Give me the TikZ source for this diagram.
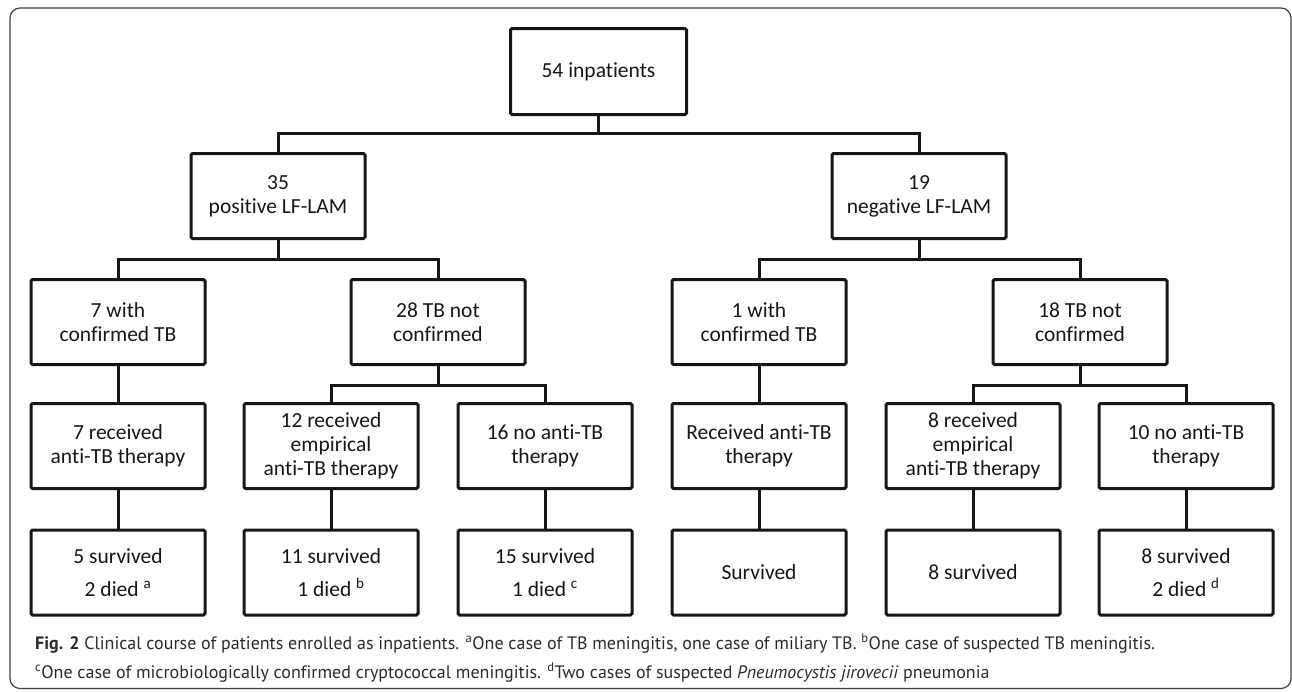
\documentclass[tikz,border=0pt]{standalone}
\usepackage{fontspec}
\setmainfont{Carlito}[Ligatures=NoCommon]
\newfontfamily\capfont{PT Sans}[Ligatures=NoCommon]
\definecolor{ink}{HTML}{161616}
\definecolor{captext}{HTML}{2A2A2A}
\begin{document}
\begin{tikzpicture}[x=1pt,y=-1pt,
  box/.style={draw=ink, line width=3pt, rounded corners=1.5pt, minimum width=174pt,
    minimum height=85pt, align=center, inner sep=0pt, text=ink,
    font=\fontsize{21.5}{24}\selectfont},
  link/.style={draw=ink, line width=3pt},
  captionline/.style={anchor=base west, inner sep=0pt, text=captext,
    font=\capfont\fontsize{18}{29}\selectfont}]
\useasboundingbox (0,0) rectangle (1292,691);
\draw[rounded corners=10pt, line width=1.2pt, draw=black!75] (10,8) rectangle (1291,688.5);

% level 1 and 2
\node[box, minimum height=86pt, minimum width=176pt] (n54) at (598.5,71.5) {54 inpatients};
\node[box] (n35) at (278,196) {35\\positive LF-LAM};
\node[box] (n19) at (919,196) {19\\negative LF-LAM};
% level 3
\node[box] (c7)  at (118,322)  {7 with\\confirmed TB};
\node[box] (c28) at (438,322)  {28 TB not\\confirmed};
\node[box] (c1)  at (759,322)  {1 with\\confirmed TB};
\node[box] (c18) at (1080,322) {18 TB not\\confirmed};
% level 4
\node[box] (t7)  at (118,446)  {7 received\\anti-TB therapy};
\node[box] (t12) at (331,446)  {12 received\\empirical\\anti-TB therapy};
\node[box] (t16) at (545,446)  {16 no anti-TB\\therapy};
\node[box] (t1)  at (759,446)  {Received anti-TB\\therapy};
\node[box] (t8)  at (973,446)  {8 received\\empirical\\anti-TB therapy};
\node[box] (t10) at (1186,446) {10 no anti-TB\\therapy};
% level 5
\node[box] (o7)  at (118,572.5)  {5 survived\\[9pt]2 died \textsuperscript{a}};
\node[box] (o12) at (331,572.5)  {11 survived\\[9pt]1 died \textsuperscript{b}};
\node[box] (o16) at (545,572.5)  {15 survived\\[9pt]1 died \textsuperscript{c}};
\node[box] (o1)  at (759,572.5)  {Survived};
\node[box] (o8)  at (973,572.5)  {8 survived};
\node[box] (o10) at (1186,572.5) {8 survived\\[9pt]2 died \textsuperscript{d}};

% bus levels
\coordinate (b1) at (0,133);
\coordinate (b2) at (0,259);
\coordinate (b3) at (0,385);

\draw[link] (n54.south) -- (n54.south |- b1);
\draw[link] (n35.north) -- (n35.north |- b1) -- (n19.north |- b1) -- (n19.north);

\draw[link] (n35.south) -- (n35.south |- b2);
\draw[link] (c7.north) -- (c7.north |- b2) -- (c28.north |- b2) -- (c28.north);
\draw[link] (n19.south) -- (n19.south |- b2);
\draw[link] (c1.north) -- (c1.north |- b2) -- (c18.north |- b2) -- (c18.north);

\draw[link] (c7.south) -- (t7.north);
\draw[link] (c28.south) -- (c28.south |- b3);
\draw[link] (t12.north) -- (t12.north |- b3) -- (t16.north |- b3) -- (t16.north);
\draw[link] (c1.south) -- (t1.north);
\draw[link] (c18.south) -- (c18.south |- b3);
\draw[link] (t8.north) -- (t8.north |- b3) -- (t10.north |- b3) -- (t10.north);

\draw[link] (t7.south) -- (o7.north);
\draw[link] (t12.south) -- (o12.north);
\draw[link] (t16.south) -- (o16.north);
\draw[link] (t1.south) -- (o1.north);
\draw[link] (t8.south) -- (o8.north);
\draw[link] (t10.south) -- (o10.north);

% caption
\node[captionline] (cap1) at (35,649) {\textbf{Fig. 2} Clinical course of patients enrolled as inpatients. \textsuperscript{a}One case of TB meningitis, one case of miliary TB. \textsuperscript{b}One case of suspected TB meningitis.};
\node[captionline] (cap2) at (35,678) {\textsuperscript{c}One case of microbiologically confirmed cryptococcal meningitis. \textsuperscript{d}Two cases of suspected \textit{Pneumocystis jirovecii} pneumonia};
\end{tikzpicture}
\end{document}
